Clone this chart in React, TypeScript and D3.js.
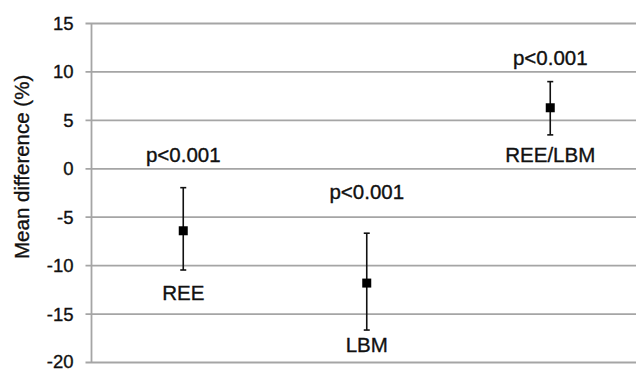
import React from "react";
import * as d3 from "d3";

const categories = ["REE", "LBM", "REE/LBM"];
const means = [-6.4, -11.8, 6.3];
const upper = [-1.95, -6.65, 9.0];
const lower = [-10.45, -16.65, 3.5];
const pLabels = ["p<0.001", "p<0.001", "p<0.001"];
const pLabelY = [1.45, -2.35, 11.45];
const catLabelY = [-12.8, -18.2, 1.45];
const yTicks = [15, 10, 5, 0, -5, -10, -15, -20];

const width = 636;
const height = 371;
const margin = { top: 23.5, right: -6, bottom: 8.5, left: 91.5 };

export default function App() {
  const x = d3
    .scaleBand<string>()
    .domain(categories)
    .range([margin.left, width - margin.right]);

  const y = d3
    .scaleLinear()
    .domain([-20, 15])
    .range([height - margin.bottom, margin.top]);

  const cx = (c: string) => (x(c) ?? 0) + x.bandwidth() / 2;
  const font = "Arial, 'Liberation Sans', sans-serif";
  // slight stroke so the text reads as heavy as the scanned original
  const textStyle = { stroke: "#111", strokeWidth: 0.35 };

  return (
    <svg
      width={width}
      height={height}
      style={{ position: "absolute", left: 0, top: 0, background: "#fff" }}
    >
      {/* gridlines and tick labels */}
      {yTicks.map((t) => (
        <g key={t}>
          <line
            x1={margin.left - 6}
            x2={width - margin.right}
            y1={y(t)}
            y2={y(t)}
            stroke="#a5a5a5"
            strokeWidth={1.8}
          />
          <text
            x={margin.left - 18}
            y={y(t)}
            dy={t === -20 ? "0.28em" : "0.35em"}
            textAnchor="end"
            fontFamily={font}
            fontSize={18.5}
            fill="#111"
            style={textStyle}
          >
            {t}
          </text>
        </g>
      ))}
      {/* y axis line */}
      <line
        x1={margin.left}
        x2={margin.left}
        y1={y(15)}
        y2={y(-20)}
        stroke="#a5a5a5"
        strokeWidth={1.8}
      />
      <text
        transform={`translate(22, ${y(0.2)}) rotate(-90)`}
        textAnchor="middle"
        dy="0.36em"
        fontFamily={font}
        fontSize={20.5}
        fill="#111"
        style={textStyle}
      >
        Mean difference (%)
      </text>

      {categories.map((c, i) => {
        const px = cx(c);
        return (
          <g key={c}>
            <line
              x1={px}
              x2={px}
              y1={y(upper[i])}
              y2={y(lower[i])}
              stroke="#111"
              strokeWidth={1.6}
            />
            <line
              x1={px - 3}
              x2={px + 3}
              y1={y(upper[i])}
              y2={y(upper[i])}
              stroke="#111"
              strokeWidth={1.6}
            />
            <line
              x1={px - 3}
              x2={px + 3}
              y1={y(lower[i])}
              y2={y(lower[i])}
              stroke="#111"
              strokeWidth={1.6}
            />
            <rect
              x={px - 4.5}
              y={y(means[i]) - 4.5}
              width={9}
              height={9}
              fill="#000"
            />
            <text
              x={px}
              y={y(pLabelY[i])}
              dy="0.36em"
              textAnchor="middle"
              fontFamily={font}
              fontSize={20.5}
              fill="#111"
              style={textStyle}
            >
              {pLabels[i]}
            </text>
            <text
              x={px}
              y={y(catLabelY[i])}
              dy="0.36em"
              textAnchor="middle"
              fontFamily={font}
              fontSize={20.5}
              fill="#111"
              style={textStyle}
            >
              {c}
            </text>
          </g>
        );
      })}
    </svg>
  );
}
